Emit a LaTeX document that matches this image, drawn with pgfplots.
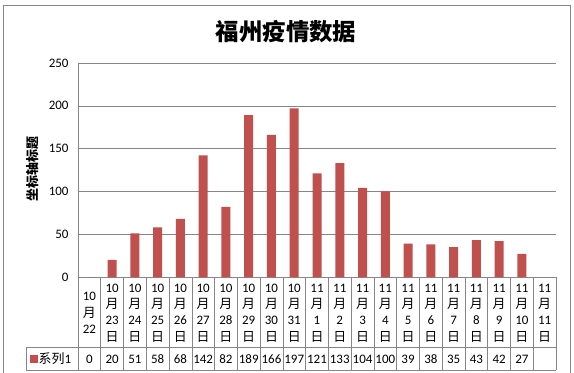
\documentclass[border=0pt]{standalone}
\usepackage{pgfplots}
\pgfplotsset{compat=1.18}
\usepackage{fontspec}
\setmainfont{Carlito}
\newfontfamily\cjk{Noto Sans CJK SC}
\definecolor{barred}{RGB}{192,80,77}
\definecolor{gridgray}{RGB}{134,134,134}
\newcommand\yue{{\cjk 月}}
\newcommand\ri{{\cjk 日}}
\begin{document}
\begin{tikzpicture}[x=1bp,y=1bp]
\useasboundingbox (0,0) rectangle (574,-372);
\fill[white] (0,0) rectangle (574,-372);
% chart frame
\draw[gridgray,line width=0.8bp] (3.5,-380) -- (3.5,-5) -- (570,-5) -- (570,-380);
% title
\node[font=\cjk\bfseries\fontsize{23.5}{26}\selectfont] at (286,-32) {福州疫情数据};
% y label
\node[rotate=90,font=\cjk\bfseries\fontsize{13}{15}\selectfont] at (33,-169) {坐标轴标题};
\begin{axis}[
  at={(78bp,-277bp)}, anchor=south west,
  scale only axis, width=478bp, height=214bp,
  xmin=-0.5, xmax=20.5, ymin=0, ymax=250,
  ytick={0,50,...,250},
  axis x line*=bottom, axis y line*=left,
  axis line style={gridgray,-},
  ymajorgrids, grid style={gridgray,line width=0.6bp},
  major tick length=0pt,
  /pgf/number format/assume math mode=true,
  tick label style={font=\fontsize{13}{16.3}\selectfont},
  yticklabel style={xshift=-6bp},
  xtick={0,...,20},
  xticklabels={
    {10\\\yue\\22},
    {10\\\yue\\23\\\ri},{10\\\yue\\24\\\ri},{10\\\yue\\25\\\ri},{10\\\yue\\26\\\ri},
    {10\\\yue\\27\\\ri},{10\\\yue\\28\\\ri},{10\\\yue\\29\\\ri},{10\\\yue\\30\\\ri},
    {10\\\yue\\31\\\ri},{11\\\yue\\1\\\ri},{11\\\yue\\2\\\ri},{11\\\yue\\3\\\ri},
    {11\\\yue\\4\\\ri},{11\\\yue\\5\\\ri},{11\\\yue\\6\\\ri},{11\\\yue\\7\\\ri},
    {11\\\yue\\8\\\ri},{11\\\yue\\9\\\ri},{11\\\yue\\10\\\ri},{11\\\yue\\11\\\ri}},
  xticklabel style={anchor=center, align=center, inner sep=0pt, yshift=-36bp},
  extra x ticks={0,...,20},
  extra x tick labels={0,20,51,58,68,142,82,189,166,197,121,133,104,100,39,38,35,43,42,27,{}},
  extra x tick style={xticklabel style={yshift=-46bp}, grid=none},
  clip=false,
]
\addplot[ybar, bar width=9bp, fill=barred, draw=none] coordinates {
(0,0) (1,20) (2,51) (3,58) (4,68) (5,142) (6,82) (7,189) (8,166) (9,197)
(10,121) (11,133) (12,104) (13,100) (14,39) (15,38) (16,35) (17,43) (18,42) (19,27)
};
\end{axis}
% data table lines
\foreach \k in {0,...,21} {
  \draw[gridgray,line width=0.6bp] ({78+478/21*\k},-277) -- ({78+478/21*\k},-370);
}
\draw[gridgray,line width=0.6bp] (26,-347.5) -- (556,-347.5);
\draw[gridgray,line width=0.6bp] (26,-370) -- (556,-370);
\draw[gridgray,line width=0.6bp] (26,-347.5) -- (26,-370);
% legend key
\fill[barred] (30,-354.5) rectangle (38,-362.5);
\node[anchor=west,inner sep=0pt,font=\fontsize{13}{15}\selectfont] at (38.5,-359) {{\cjk 系列}1};
\end{tikzpicture}
\end{document}
